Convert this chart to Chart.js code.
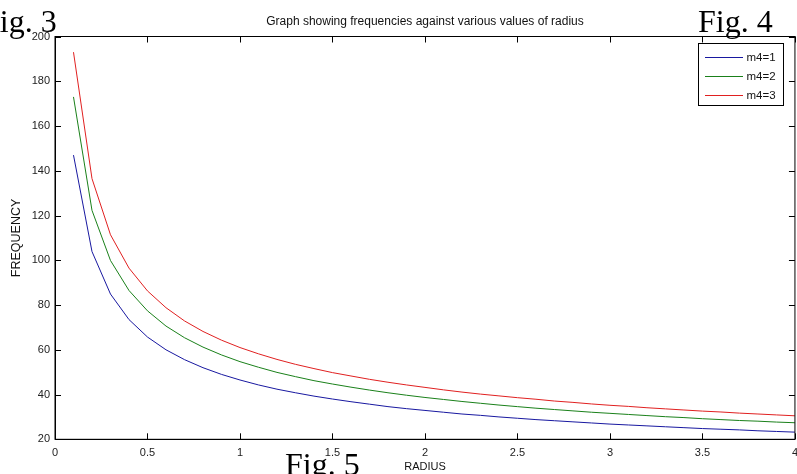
<!DOCTYPE html>
<html>
<head>
<meta charset="utf-8">
<title>Graph showing frequencies against various values of radius</title>
<script src="https://cdn.jsdelivr.net/npm/chart.js@4.4.1/dist/chart.umd.min.js"></script>
<style>
  html, body { margin: 0; padding: 0; background: #fff; overflow: hidden; }
  #wrap { position: relative; width: 797px; height: 474px; overflow: hidden; }
  #chart-wrap { position: absolute; left: 0; top: 0; width: 805px; height: 474px; }
  .fig {
    position: absolute;
    font-family: 'Liberation Serif', 'Times New Roman', serif;
    font-size: 32px;
    line-height: 32px;
    color: #000;
    white-space: nowrap;
  }
</style>
</head>
<body>
<div id="wrap">
  <div id="chart-wrap"><canvas id="chart-freq" width="805" height="474"></canvas></div>
  <div class="fig" style="left:-18px; top:5px">Fig. 3</div>
  <div class="fig" style="left:698px; top:5px">Fig. 4</div>
  <div class="fig" style="left:285px; top:448px">Fig. 5</div>
</div>
<script>
// values (radius step 0.1)
const radius = [0.1, 0.2, 0.3, 0.4, 0.5, 0.6, 0.7, 0.8, 0.9, 1.0,
                1.1, 1.2, 1.3, 1.4, 1.5, 1.6, 1.7, 1.8, 1.9, 2.0,
                2.1, 2.2, 2.3, 2.4, 2.5, 2.6, 2.7, 2.8, 2.9, 3.0,
                3.1, 3.2, 3.3, 3.4, 3.5, 3.6, 3.7, 3.8, 3.9, 4.0];

const freqM1 = [147.0, 103.9, 84.9, 73.5, 65.7, 60.0, 55.6, 52.0, 49.0, 46.5,
                44.3, 42.4, 40.8, 39.3, 38.0, 36.8, 35.7, 34.6, 33.7, 32.9,
                32.1, 31.3, 30.7, 30.0, 29.4, 28.8, 28.3, 27.8, 27.3, 26.8,
                26.4, 26.0, 25.6, 25.2, 24.8, 24.5, 24.2, 23.8, 23.5, 23.2];

const freqM2 = [173.0, 122.3, 99.9, 86.5, 77.4, 70.6, 65.4, 61.2, 57.7, 54.7,
                52.2, 49.9, 48.0, 46.2, 44.7, 43.3, 42.0, 40.8, 39.7, 38.7,
                37.8, 36.9, 36.1, 35.3, 34.6, 33.9, 33.3, 32.7, 32.1, 31.6,
                31.1, 30.6, 30.1, 29.7, 29.2, 28.8, 28.4, 28.1, 27.7, 27.4];

const freqM3 = [193.0, 136.5, 111.4, 96.5, 86.3, 78.8, 72.9, 68.2, 64.3, 61.0,
                58.2, 55.7, 53.5, 51.6, 49.8, 48.3, 46.8, 45.5, 44.3, 43.2,
                42.1, 41.1, 40.2, 39.4, 38.6, 37.9, 37.1, 36.5, 35.8, 35.2,
                34.7, 34.1, 33.6, 33.1, 32.6, 32.2, 31.7, 31.3, 30.9, 30.5];

const seriesLabels = ['m4=1', 'm4=2', 'm4=3'];
const seriesColors = ['#1818a0', '#1a801a', '#e02020'];
const xTicks = [0, 0.5, 1, 1.5, 2, 2.5, 3, 3.5, 4];
const yTicks = [20, 40, 60, 80, 100, 120, 140, 160, 180, 200];

const chartTitle = 'Graph showing frequencies against various values of radius';
const fontFamily = "'Liberation Sans', Arial, sans-serif";
const axisFont = { family: fontFamily, size: 11 };

function toPoints(values) {
    return values.map((v, i) => ({ x: radius[i], y: v }));
}

// MATLAB style box: frame, inward ticks on all sides, title and boxed legend
const matlabFrame = {
    id: 'matlabFrame',
    afterDatasetsDraw(chart) {
        const { ctx, chartArea: a, scales: { x, y } } = chart;
        ctx.save();
        ctx.strokeStyle = '#000';
        ctx.lineWidth = 1;
        ctx.strokeRect(a.left, a.top, a.right - a.left, a.bottom - a.top);

        ctx.beginPath();
        xTicks.forEach(v => {
            const px = Math.round(x.getPixelForValue(v)) + 0.5;
            ctx.moveTo(px, a.bottom); ctx.lineTo(px, a.bottom - 6);
            ctx.moveTo(px, a.top); ctx.lineTo(px, a.top + 6);
        });
        yTicks.forEach(v => {
            const py = Math.round(y.getPixelForValue(v)) + 0.5;
            ctx.moveTo(a.left, py); ctx.lineTo(a.left + 6, py);
            ctx.moveTo(a.right, py); ctx.lineTo(a.right - 6, py);
        });
        ctx.stroke();

        // title
        ctx.fillStyle = '#111';
        ctx.font = `12px ${fontFamily}`;
        ctx.textAlign = 'center';
        ctx.textBaseline = 'middle';
        ctx.fillText(chartTitle, (a.left + a.right) / 2, 22);

        // legend
        const lx = 698.5, ly = 43.5, lw = 85, lh = 62;
        ctx.fillStyle = '#fff';
        ctx.fillRect(lx, ly, lw, lh);
        ctx.strokeStyle = '#000';
        ctx.strokeRect(lx, ly, lw, lh);
        ctx.textAlign = 'left';
        ctx.font = `11.5px ${fontFamily}`;
        seriesLabels.forEach((label, i) => {
            const rowY = Math.round(ly + 13 + i * 19);
            ctx.fillStyle = seriesColors[i];
            ctx.fillRect(Math.round(lx) + 6, rowY, 38, 1);
            ctx.fillStyle = '#111';
            ctx.fillText(label, lx + 48, rowY + 0.5);
        });
        ctx.restore();
    }
};

const ctx = document.getElementById('chart-freq');
new Chart(ctx, {
    type: 'line',
    data: {
        datasets: [freqM1, freqM2, freqM3].map((values, i) => ({
            label: seriesLabels[i],
            data: toPoints(values),
            borderColor: seriesColors[i],
            borderWidth: 1,
            pointRadius: 0,
            tension: 0,
            fill: false
        }))
    },
    options: {
        responsive: false,
        animation: false,
        layout: { padding: { top: 36.5, right: 6.5, bottom: 0, left: 0 } },
        plugins: {
            legend: { display: false },
            title: { display: false },
            tooltip: { enabled: false }
        },
        scales: {
            x: {
                type: 'linear',
                min: 0,
                max: 4,
                afterBuildTicks: scale => { scale.ticks = xTicks.map(v => ({ value: v })); },
                afterFit: scale => { scale.height = 34.7; },
                grid: { display: false, drawTicks: false },
                border: { display: true, color: '#000' },
                ticks: { color: '#222', font: axisFont, padding: 7, maxRotation: 0, autoSkip: false, callback: v => String(v) },
                title: { display: true, text: 'RADIUS', color: '#111', font: axisFont, padding: { top: 0, bottom: 0.5 } }
            },
            y: {
                min: 20,
                max: 200,
                afterBuildTicks: scale => { scale.ticks = yTicks.map(v => ({ value: v })); },
                afterFit: scale => { scale.width = 55; },
                grid: { display: false, drawTicks: false },
                border: { display: true, color: '#000' },
                ticks: { color: '#222', font: axisFont, padding: 5, callback: v => String(v) },
                title: { display: true, text: 'FREQUENCY', color: '#111', font: { family: fontFamily, size: 12.5 }, padding: { top: 9.5, bottom: 0 } }
            }
        }
    },
    plugins: [matlabFrame]
});
</script>
</body>
</html>
